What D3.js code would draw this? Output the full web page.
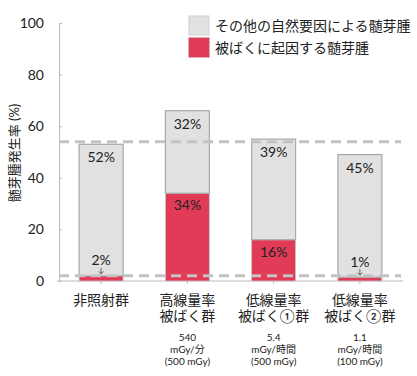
<!DOCTYPE html>
<html>
<head>
<meta charset="utf-8">
<script src="https://cdn.jsdelivr.net/npm/d3@7"></script>
<style>
  body { margin: 0; background: #fff; }
  text { font-family: Lato, "Noto Sans CJK JP", sans-serif; fill: #222; }
</style>
</head>
<body>
<div id="chart"></div>
<script>
// データ
const groups = ["非照射群", "高線量率被ばく群", "低線量率被ばく①群", "低線量率被ばく②群"];
const groupLines = [["非照射群"], ["高線量率", "被ばく群"], ["低線量率", "被ばく①群"], ["低線量率", "被ばく②群"]];
const doseNotes = [[], ["540", "mGy/分", "(500 mGy)"], ["5.4", "mGy/時間", "(500 mGy)"], ["1.1", "mGy/時間", "(100 mGy)"]];
const radiationValues = [2, 34, 16, 1.5];     // 被ばくに起因する髄芽腫
const naturalValues = [51, 32, 39, 47.5];     // その他の自然要因による髄芽腫
const radiationLabels = ["2%", "34%", "16%", "1%"];
const naturalLabels = ["52%", "32%", "39%", "45%"];
const refLines = [54, 2];
const yTicks = [0, 20, 40, 60, 80, 100];
const legendNames = ["その他の自然要因による髄芽腫", "被ばくに起因する髄芽腫"];

const W = 417, H = 376;
const colRed = "#e23b57", colGray = "#e1e1e1";

const svg = d3.select("#chart").append("svg")
    .attr("width", W).attr("height", H);

const x = d3.scaleBand().domain(groups).range([58, 403])
    .paddingInner(0.49).paddingOuter(0.245);
const y = d3.scaleLinear().domain([0, 100]).range([281, 23]);

// 軸
const yAxis = svg.append("g").attr("transform", "translate(59,0)")
    .call(d3.axisLeft(y).tickValues(yTicks).tickSize(-3).tickPadding(15));
yAxis.select(".domain").attr("stroke", "#bbb");
yAxis.selectAll(".tick line").attr("stroke", "#bbb");
yAxis.selectAll(".tick text").style("font-size", "14px").attr("fill", "#222");

svg.append("line")
    .attr("x1", 57).attr("x2", 403).attr("y1", y(0)).attr("y2", y(0))
    .attr("stroke", "#bbb");
svg.selectAll(".xtick").data(groups).enter().append("line")
    .attr("x1", d => x(d) + x.bandwidth() / 2).attr("x2", d => x(d) + x.bandwidth() / 2)
    .attr("y1", y(0)).attr("y2", y(0) + 3).attr("stroke", "#bbb");

// 棒（積み上げ）
svg.selectAll(".red").data(groups).enter().append("rect")
    .attr("x", d => x(d)).attr("width", x.bandwidth())
    .attr("y", (d, i) => y(radiationValues[i]))
    .attr("height", (d, i) => y(0) - y(radiationValues[i]))
    .attr("fill", colRed).attr("stroke", "#c9c9c9").attr("stroke-width", 0.8);

svg.selectAll(".gray").data(groups).enter().append("rect")
    .attr("x", d => x(d)).attr("width", x.bandwidth())
    .attr("y", (d, i) => y(radiationValues[i] + naturalValues[i]))
    .attr("height", (d, i) => y(radiationValues[i]) - y(radiationValues[i] + naturalValues[i]))
    .attr("fill", colGray).attr("stroke", "#a8a8a8").attr("stroke-width", 1.2);

// 破線
svg.selectAll(".ref").data(refLines).enter().append("line")
    .attr("x1", 59).attr("x2", 401)
    .attr("y1", d => y(d)).attr("y2", d => y(d))
    .attr("stroke", "#c3c3c3").attr("stroke-width", 3)
    .attr("stroke-dasharray", "10,6");

// ラベル
svg.selectAll(".nlab").data(groups).enter().append("text")
    .attr("x", d => x(d) + x.bandwidth() / 2)
    .attr("y", (d, i) => y(radiationValues[i] + naturalValues[i]) + 18)
    .attr("text-anchor", "middle").style("font-size", "14px")
    .text((d, i) => naturalLabels[i]);

groups.forEach((g, i) => {
    const cx = x(g) + x.bandwidth() / 2;
    const top = y(radiationValues[i]);
    if (radiationValues[i] > 5) {
        svg.append("text").attr("x", cx).attr("y", top + 17)
            .attr("text-anchor", "middle").style("font-size", "14px")
            .text(radiationLabels[i]);
    } else {
        svg.append("text").attr("x", cx).attr("y", top - 10.5)
            .attr("text-anchor", "middle").style("font-size", "14px")
            .text(radiationLabels[i]);
        // 小さな下向き矢印
        svg.append("path")
            .attr("d", `M${cx},${top - 8}V${top - 2}M${cx - 2.5},${top - 4.5}L${cx},${top - 2}L${cx + 2.5},${top - 4.5}`)
            .attr("fill", "none").attr("stroke", "#444").attr("stroke-width", 0.8);
    }
    groupLines[i].forEach((t, j) => {
        svg.append("text").attr("x", cx).attr("y", 305 + j * 15.5)
            .attr("text-anchor", "middle").style("font-size", "14px")
            .text(t);
    });
    doseNotes[i].forEach((t, j) => {
        svg.append("text").attr("x", cx).attr("y", 341 + j * 12)
            .attr("text-anchor", "middle").style("font-size", "10px")
            .text(t);
    });
});

// 軸タイトル
svg.append("text")
    .attr("transform", "translate(19,153) rotate(-90)")
    .attr("text-anchor", "middle").style("font-size", "13px")
    .text("髄芽腫発生率 (%)");

// 凡例
const legend = svg.append("g").attr("transform", "translate(189,16)");
legend.selectAll("rect").data(legendNames).enter().append("rect")
    .attr("x", 0).attr("y", (d, i) => i * 22)
    .attr("width", 20).attr("height", 19)
    .attr("fill", (d, i) => i === 0 ? colGray : colRed)
    .attr("stroke", (d, i) => i === 0 ? "#d0d0d0" : "#d0485e");
legend.selectAll("text").data(legendNames).enter().append("text")
    .attr("x", 26).attr("y", (d, i) => i * 22 + 15)
    .style("font-size", "14px")
    .text(d => d);
</script>
</body>
</html>
